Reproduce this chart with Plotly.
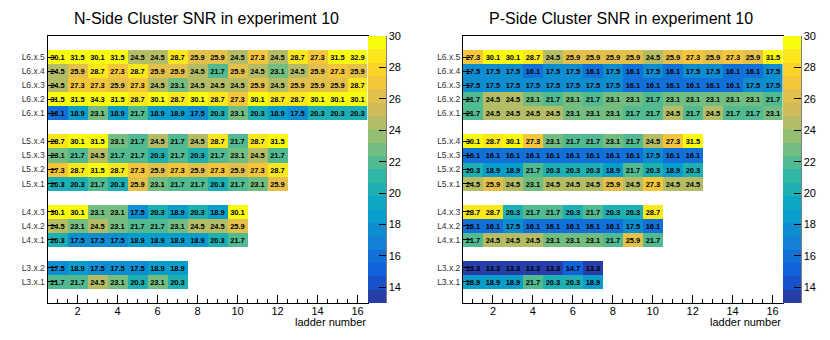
import plotly.graph_objects as go

# ladder numbers on the x axis
ladders = list(range(1, 17))

# row labels, bottom to top, "" marks the empty gap rows
row_labels = ["L3.x.1", "L3.x.2", "", "L4.x.1", "L4.x.2", "L4.x.3", "",
              "L5.x.1", "L5.x.2", "L5.x.3", "L5.x.4", "",
              "L6.x.1", "L6.x.2", "L6.x.3", "L6.x.4", "L6.x.5"]

# N side SNR per row
n_L3_1 = [21.7, 21.7, 24.5, 23.1, 20.3, 23.1, 20.3]
n_L3_2 = [17.5, 18.9, 17.5, 17.5, 17.5, 18.9, 18.9]
n_L4_1 = [20.3, 17.5, 17.5, 17.5, 18.9, 18.9, 18.9, 18.9, 20.3, 21.7]
n_L4_2 = [24.5, 23.1, 24.5, 23.1, 21.7, 21.7, 23.1, 24.5, 24.5, 25.9]
n_L4_3 = [30.1, 30.1, 23.1, 23.1, 17.5, 20.3, 18.9, 20.3, 18.9, 30.1]
n_L5_1 = [20.3, 20.3, 21.7, 20.3, 25.9, 23.1, 21.7, 21.7, 20.3, 21.7, 23.1, 25.9]
n_L5_2 = [27.3, 28.7, 31.5, 28.7, 27.3, 25.9, 27.3, 25.9, 27.3, 25.9, 27.3, 28.7]
n_L5_3 = [23.1, 21.7, 24.5, 21.7, 21.7, 20.3, 21.7, 20.3, 21.7, 23.1, 24.5, 21.7]
n_L5_4 = [28.7, 30.1, 31.5, 23.1, 21.7, 24.5, 21.7, 24.5, 28.7, 21.7, 28.7, 31.5]
n_L6_1 = [16.1, 18.9, 23.1, 18.9, 21.7, 18.9, 18.9, 17.5, 20.3, 23.1, 20.3, 18.9, 17.5, 20.3, 20.3, 20.3]
n_L6_2 = [31.5, 31.5, 34.3, 31.5, 28.7, 30.1, 28.7, 30.1, 28.7, 27.3, 30.1, 28.7, 28.7, 30.1, 30.1, 30.1]
n_L6_3 = [24.5, 27.3, 27.3, 25.9, 27.3, 24.5, 23.1, 24.5, 24.5, 24.5, 25.9, 24.5, 25.9, 25.9, 25.9, 28.7]
n_L6_4 = [24.5, 25.9, 28.7, 27.3, 28.7, 25.9, 25.9, 24.5, 21.7, 25.9, 24.5, 23.1, 24.5, 25.9, 27.3, 25.9]
n_L6_5 = [30.1, 31.5, 30.1, 31.5, 24.5, 24.5, 28.7, 25.9, 25.9, 24.5, 27.3, 24.5, 28.7, 27.3, 31.5, 32.9]

# P side SNR per row
p_L3_1 = [18.9, 18.9, 18.9, 21.7, 20.3, 20.3, 18.9]
p_L3_2 = [13.3, 13.3, 13.3, 13.3, 13.3, 14.7, 13.3]
p_L4_1 = [21.7, 24.5, 24.5, 24.5, 23.1, 23.1, 23.1, 21.7, 25.9, 21.7]
p_L4_2 = [16.1, 16.1, 17.5, 16.1, 16.1, 16.1, 16.1, 16.1, 17.5, 16.1]
p_L4_3 = [28.7, 28.7, 20.3, 21.7, 21.7, 20.3, 21.7, 20.3, 20.3, 28.7]
p_L5_1 = [24.5, 25.9, 24.5, 23.1, 24.5, 24.5, 24.5, 25.9, 24.5, 27.3, 24.5, 24.5]
p_L5_2 = [20.3, 18.9, 18.9, 21.7, 20.3, 20.3, 20.3, 18.9, 21.7, 20.3, 18.9, 20.3]
p_L5_3 = [16.1, 16.1, 16.1, 16.1, 16.1, 16.1, 16.1, 16.1, 16.1, 17.5, 16.1, 16.1]
p_L5_4 = [30.1, 28.7, 30.1, 27.3, 23.1, 21.7, 21.7, 23.1, 21.7, 24.5, 27.3, 31.5]
p_L6_1 = [21.7, 24.5, 24.5, 24.5, 24.5, 23.1, 23.1, 23.1, 21.7, 21.7, 24.5, 21.7, 24.5, 21.7, 21.7, 23.1]
p_L6_2 = [21.7, 24.5, 24.5, 23.1, 21.7, 23.1, 21.7, 23.1, 23.1, 21.7, 23.1, 23.1, 23.1, 23.1, 23.1, 21.7]
p_L6_3 = [17.5, 17.5, 17.5, 17.5, 17.5, 17.5, 17.5, 17.5, 16.1, 16.1, 16.1, 16.1, 16.1, 16.1, 17.5, 17.5]
p_L6_4 = [17.5, 17.5, 17.5, 16.1, 17.5, 17.5, 16.1, 17.5, 16.1, 17.5, 16.1, 17.5, 17.5, 16.1, 16.1, 17.5]
p_L6_5 = [27.3, 30.1, 30.1, 28.7, 24.5, 25.9, 25.9, 25.9, 25.9, 24.5, 25.9, 27.3, 25.9, 27.3, 25.9, 31.5]

n_rows = [n_L3_1, n_L3_2, [], n_L4_1, n_L4_2, n_L4_3, [], n_L5_1, n_L5_2, n_L5_3, n_L5_4, [],
          n_L6_1, n_L6_2, n_L6_3, n_L6_4, n_L6_5]
p_rows = [p_L3_1, p_L3_2, [], p_L4_1, p_L4_2, p_L4_3, [], p_L5_1, p_L5_2, p_L5_3, p_L5_4, [],
          p_L6_1, p_L6_2, p_L6_3, p_L6_4, p_L6_5]

ZMIN, ZMAX = 13.0, 30.0
OFF = 8                      # page body margin of the html output
W, H = 830 - OFF, 340 - OFF
FONT = "Liberation Sans"


def px(x):
    return (x - OFF) / W


def py(y):
    return 1 - (y - OFF) / H


def pad(rows):
    z, txt = [], []
    for r in rows:
        z.append(r + [None] * (16 - len(r)))
        txt.append(["%.1f" % v for v in r] + [""] * (16 - len(r)))
    return z, txt


# ROOT kBird palette, 20 contour levels
stops = [0.0, 0.125, 0.25, 0.375, 0.5, 0.625, 0.75, 0.875, 1.0]
red = [0.2082, 0.0592, 0.0780, 0.0232, 0.1802, 0.5301, 0.8186, 0.9956, 0.9764]
green = [0.1664, 0.3599, 0.5041, 0.6419, 0.7178, 0.7492, 0.7328, 0.7862, 0.9832]
blue = [0.5293, 0.8684, 0.8385, 0.7914, 0.6425, 0.4662, 0.3499, 0.1968, 0.0539]


def bird(t):
    for i in range(len(stops) - 1):
        if t <= stops[i + 1]:
            f = (t - stops[i]) / (stops[i + 1] - stops[i])
            c = [a[i] + f * (a[i + 1] - a[i]) for a in (red, green, blue)]
            return "rgb(%d,%d,%d)" % tuple(int(round(v * 255)) for v in c)
    return "rgb(249,251,14)"


nlev = 20
cscale = []
for i in range(nlev):
    idx = int((i + 0.99) * 255 / nlev)
    col = bird(min(idx, 254) / 254)
    cscale.append([i / nlev, col])
    cscale.append([(i + 1) / nlev, col])

yvals = [i for i, l in enumerate(row_labels) if l]
ytext = [l for l in row_labels if l]

fig = go.Figure()
for k, rows in enumerate([n_rows, p_rows]):
    z, txt = pad(rows)
    fig.add_trace(go.Heatmap(
        x=ladders, y=list(range(len(row_labels))), z=z, text=txt,
        texttemplate="%{text}",
        textfont=dict(size=7.5, color="black", family=FONT, weight="bold"),
        coloraxis="coloraxis" if k == 0 else "coloraxis2",
        xaxis="x" if k == 0 else "x2", yaxis="y" if k == 0 else "y2",
        hoverongaps=False, xgap=0, ygap=0,
    ))

ytop = py(36)
ybot = py(303)
panels = [(47.5, 367.5, "N-Side Cluster SNR in experiment 10"),
          (463, 782.5, "P-Side Cluster SNR in experiment 10")]

ax_common = dict(showgrid=False, zeroline=False, showline=True, linecolor="black",
                 linewidth=1, mirror=True, automargin=False)
layout = dict(template="none", width=W, height=H, margin=dict(l=0, r=0, t=0, b=0),
              plot_bgcolor="white", paper_bgcolor="white",
              font=dict(family=FONT, color="black"), showlegend=False)
annotations = []
shapes = []
for k, (x0, x1, title) in enumerate(panels):
    sfx = "" if k == 0 else "2"
    layout["xaxis" + sfx] = dict(
        domain=[px(x0), px(x1)], range=[0.5, 16.5], anchor="y" + sfx,
        tickmode="linear", tick0=0, dtick=2, ticks="inside", ticklen=8,
        tickcolor="black", tickfont=dict(size=11), ticklabelstandoff=-2,
        minor=dict(dtick=0.5, ticks="inside", ticklen=4, tickcolor="black"),
        **ax_common)
    layout["yaxis" + sfx] = dict(
        domain=[ybot, ytop], range=[-1.5, 17.5], anchor="x" + sfx,
        tickmode="array", tickvals=yvals, ticktext=ytext, ticks="inside",
        ticklen=8, tickcolor="black", tickfont=dict(size=8.5, color="#333333"),
        **ax_common)
    cb_x0 = x1 + 0.5
    layout["coloraxis" + sfx] = dict(
        colorscale=cscale, cmin=ZMIN, cmax=ZMAX,
        colorbar=dict(x=px(cb_x0), xanchor="left", y=ybot, yanchor="bottom",
                      len=ytop - ybot, lenmode="fraction", thickness=18,
                      thicknessmode="pixels", outlinewidth=0, xpad=0, ypad=0,
                      borderwidth=0,
                      tickmode="array", tickvals=list(range(14, 31, 2)),
                      ticks="inside", ticklen=7, tickcolor="black",
                      tickfont=dict(size=11)))
    shapes.append(dict(type="line", xref="paper", yref="paper",
                       x0=px(cb_x0 + 18), x1=px(cb_x0 + 18), y0=ybot, y1=ytop,
                       line=dict(color="black", width=1)))
    annotations.append(dict(text=title, x=px((x0 + x1) / 2 - 1.5), y=1.0,
                            xref="paper", yref="paper", showarrow=False,
                            font=dict(size=16), xanchor="center", yanchor="top"))
    annotations.append(dict(text="ladder number", x=px(x1), y=py(322),
                            xref="paper", yref="paper", showarrow=False,
                            font=dict(size=11), xanchor="right", yanchor="middle"))

layout["annotations"] = annotations
layout["shapes"] = shapes
fig.update_layout(**layout)

fig.write_html("out.html")
